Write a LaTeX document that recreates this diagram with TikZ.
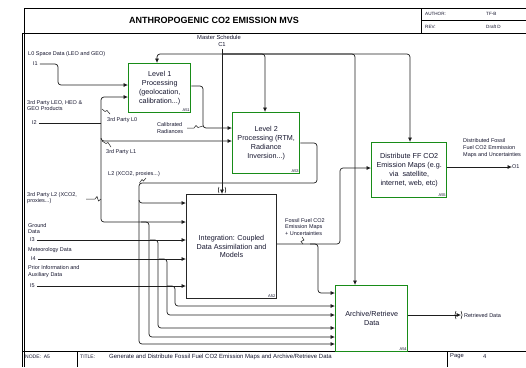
\documentclass[tikz,border=0pt]{standalone}
\usepackage{fontspec}
\setmainfont{Liberation Sans}
\usetikzlibrary{arrows.meta}
\definecolor{boxgreen}{RGB}{24,140,24}
\definecolor{ink}{RGB}{20,20,45}
\definecolor{wirec}{RGB}{30,30,30}
\begin{document}
\begin{tikzpicture}[x=1pt,y=-1pt,
  conn/.style={draw=wirec, line width=0.7pt, rounded corners=3pt, -{Latex[length=4.5pt,width=4pt]}},
  wire/.style={draw=wirec, line width=0.7pt, rounded corners=3pt},
  frame/.style={draw=black, line width=1pt},
  thinframe/.style={draw=black, line width=0.5pt},
  gbox/.style={draw=boxgreen, line width=1.4pt, align=center, text=ink, inner sep=0pt, anchor=north west, font=\fontsize{7.2}{8.8}\selectfont},
  kbox/.style={draw=black!85, line width=1pt, align=center, text=ink, inner sep=0pt, anchor=north west, font=\fontsize{7.2}{8.8}\selectfont},
  lab/.style={font=\fontsize{5.5}{6.8}\selectfont, text=ink, align=left, anchor=west, inner sep=0pt},
  clab/.style={font=\fontsize{5.8}{6.8}\selectfont, text=ink, align=center, inner sep=0pt},
  idn/.style={font=\fontsize{4}{4}\selectfont, text=ink, anchor=south east, inner sep=1.5pt},
  leader/.style={draw=wirec, line width=0.5pt}
]
\useasboundingbox (0,0) rectangle (526,367);

% ---- title block and frame ----
\draw[thinframe] (24,8) -- (526,8);
\draw[thinframe] (24,8) -- (24,367);
\draw[frame] (22,33) -- (526,33);
\draw[frame] (22,33) -- (22,367);
\draw[thinframe] (421,8) -- (421,33);
\draw[thinframe] (421,20.5) -- (526,20.5);
\draw[frame] (22,351) -- (526,351);
\draw[thinframe] (77,351) -- (77,367);
\draw[thinframe] (447,351) -- (447,367);

\node[font=\bfseries\fontsize{9}{9}\selectfont, inner sep=0pt] (title) at (214,20.5) {ANTHROPOGENIC CO2 EMISSION MVS};
\node[lab, font=\fontsize{4.6}{5}\selectfont] (auth) at (425,14) {AUTHOR:};
\node[lab, font=\fontsize{4.6}{5}\selectfont] (authv) at (486,14) {TF-B};
\node[lab, font=\fontsize{4.6}{5}\selectfont] (rev) at (425,26.5) {REV:};
\node[lab, font=\fontsize{4.6}{5}\selectfont] (revv) at (486,27) {Draft D};
\node[lab, font=\fontsize{5}{5}\selectfont] (node) at (25,357) {NODE:\ \ A5};
\node[lab, font=\fontsize{5}{5}\selectfont] (ttl) at (80,357) {TITLE:};
\node[lab, font=\fontsize{6}{6}\selectfont] (ttlv) at (109,357) {Generate and Distribute Fossil Fuel CO2 Emission Maps and Archive/Retrieve Data};
\node[lab, font=\fontsize{5.8}{5.8}\selectfont] (page) at (450,356) {Page};
\node[lab, font=\fontsize{5.8}{5.8}\selectfont] (pagev) at (483,356) {4};

% ---- activity boxes ----
\node[gbox, minimum width=62pt, minimum height=49pt] (a51) at (128,63) {Level 1\\Processing\\(geolocation,\\calibration...)};
\node[gbox, minimum width=67pt, minimum height=61pt] (a53) at (232,112) {Level 2\\Processing (RTM,\\Radiance\\Inversion...)};
\node[gbox, minimum width=75pt, minimum height=55pt] (a55) at (371,142) {Distribute FF CO2\\Emission Maps (e.g.\\via \ satellite,\\internet, web, etc)};
\node[kbox, minimum width=90pt, minimum height=104pt] (a52) at (186,194) {Integration: Coupled\\Data Assimilation and\\Models};
\node[gbox, minimum width=72pt, minimum height=66pt] (a54) at (335,285) {Archive/Retrieve\\Data};
\node[idn] at (a51.south east) {A51};
\node[idn] at (a53.south east) {A53};
\node[idn] at (a55.south east) {A55};
\node[idn] at (a52.south east) {A52};
\node[idn] at (a54.south east) {A54};

% ---- labels ----
\node[clab] (ms) at (219,37) {Master Schedule};
\node[clab] (c1l) at (222,44.5) {C1};
\coordinate (c1) at (222,49);
\coordinate (jc) at (222,54);
\node[lab] (l0) at (28,54) {L0 Space Data (LEO and GEO)};
\node[lab] (i1) at (33,64) {I1};
\node[lab] (l3p) at (27,105.5) {3rd Party LEO, HEO \&\\GEO Products};
\node[lab] (i2) at (32,123) {I2};
\node[lab] (l3l0) at (107,120) {3rd Party L0};
\node[lab] (l3l1) at (106,152.5) {3rd Party L1};
\node[lab] (ll2) at (108,174.5) {L2 (XCO2, proxies...)};
\node[lab] (l3l2) at (27,198) {3rd Party L2 (XCO2,\\proxies...)};
\node[lab] (lgd) at (28,228.5) {Ground\\Data};
\node[lab] (i3) at (30,240) {I3};
\node[lab] (lmet) at (28,250) {Meteorology Data};
\node[lab] (i4) at (31,259) {I4};
\node[lab] (lpri) at (28,271.5) {Prior Information and\\Auxiliary Data};
\node[lab] (i5) at (30,286) {I5};
\node[lab] (lcal) at (157,128) {Calibrated\\Radiances};
\node[lab] (lff) at (285,227) {Fossil Fuel CO2\\Emission Maps\\+ Uncertainties};
\node[lab] (ldist) at (463,148) {Distributed Fossil\\Fuel CO2 Emmission\\Maps and Uncertainties};
\node[lab] (o1) at (512,167) {O1};
\node[lab] (ret) at (464,315.5) {Retrieved Data};
\coordinate (rt) at (461,315);

% ---- control C1 ----
\draw[conn] (c1) -- (c1 |- a52.north);
\draw[conn] (jc) -- (157,54) -- (a51.north -| 157,0);
\draw[conn] (jc) -- (265,54) -- (a53.north -| 265,0);
\draw[conn] (jc) -- (355,54) -- (a54.north -| 355,0);
\draw[conn] (jc) -- (410,54) -- (a55.north -| 410,0);
% tunnel marks at A52 top
\draw[line width=0.5pt] (219,187) arc[start angle=150, end angle=210, radius=6pt];
\draw[line width=0.5pt] (225,187) arc[start angle=30, end angle=-30, radius=6pt];

% ---- I1 ----
\draw[conn] (i1.east) ++(2,0) -- (58,64) -- (58,85) -- (a51.west |- 0,85);
% ---- I2 ----
\draw[wire] (i2.east) ++(2,0) -- (101,123);
\draw[conn] (101,123) -- (101,97) -- (a51.west |- 0,97);
\draw[conn] (101,123) -- (101,141) -- (a53.west |- 0,141);
\draw[conn] (101,138) -- (101,222) -- (a52.west |- 0,222);
\draw[conn] (141,222) -- (149,222) -- (149,337) -- (a54.west |- 0,337);
% ---- A51 -> A53 ----
\draw[conn] (a51.east |- 0,86) -- (203,86) -- (203,128) -- (a53.west |- 0,128);
% ---- A53 output L2 ----
\draw[conn] (a53.east |- 0,143) -- (317,143) -- (317,183) -- (139,183) -- (139,203) -- (a52.west |- 0,203);
\draw[conn] (139,200) -- (139,344) -- (a54.west |- 0,344);
% ---- I3, I4, I5 ----
\draw[conn] (i3.east) ++(2,0) -- (a52.west |- i3);
\draw[conn] (150,240) -- (158,240) -- (158,328) -- (a54.west |- 0,328);
\draw[conn] (i4.east) ++(2,0) -- (a52.west |- i4);
\draw[conn] (159,259) -- (167,259) -- (167,315) -- (a54.west |- 0,315);
\draw[conn] (i5.east) ++(2,0) -- (a52.west |- i5);
\draw[conn] (167,286) -- (175,286) -- (175,306) -- (a54.west |- 0,306);
% ---- A52 output ----
\draw[conn] (a52.east |- 0,244) -- (340,244) -- (340,168) -- (a55.west |- 0,168);
\draw[conn] (310,244) -- (318,244) -- (318,293) -- (a54.west |- 0,293);
% ---- A55 output ----
\draw[conn] (a55.east |- 0,167) -- (o1.west);
% ---- A54 output ----
\draw[conn] (a54.east |- 0,315) -- (rt);
\draw[line width=0.5pt] (456,311) arc[start angle=150, end angle=210, radius=8pt];
\draw[line width=0.5pt] (461,311) arc[start angle=30, end angle=-30, radius=8pt];

% ---- label squiggles ----
\draw[leader] (102,109) -- (105,111.5) -- (107,110.5) -- (110,114);
\draw[leader] (102,141) -- (106,143.5) -- (108,142.5) -- (111,147);
\draw[leader] (139.5,183) -- (142,179.5) -- (143.5,181) -- (146,178);
\draw[leader] (86,199) -- (95,199) -- (97,196.5) -- (98.5,201) -- (101,199);
\draw[leader] (187,128) -- (194,128) -- (196,125.5) -- (198,127.5) -- (203,126);
\draw[leader] (302,237) -- (304,240) -- (301,241.5) -- (303,244);
\end{tikzpicture}
\end{document}
